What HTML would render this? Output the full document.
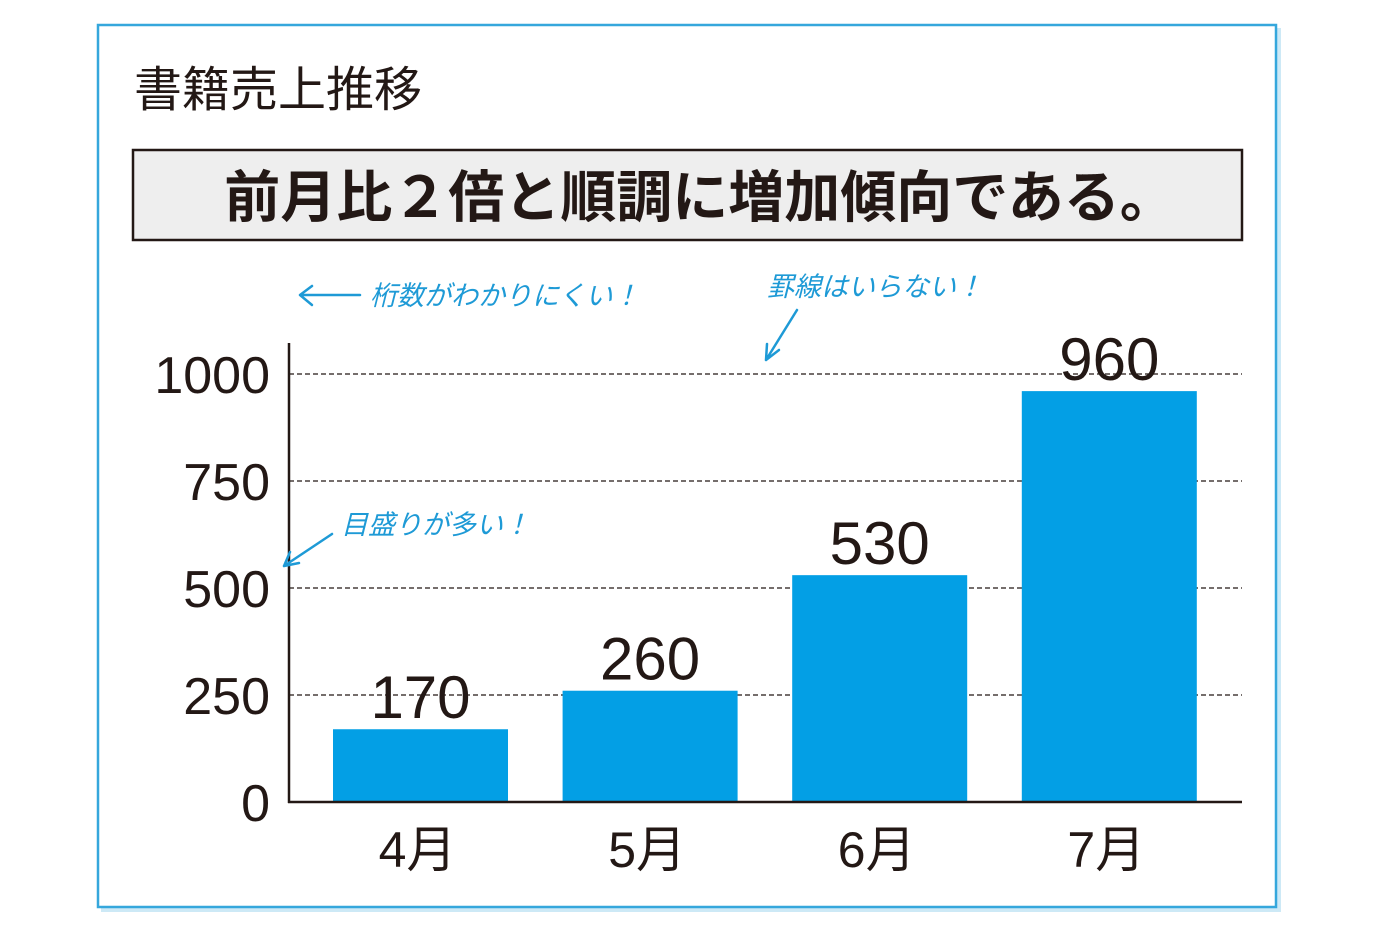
<!DOCTYPE html>
<html><head><meta charset="utf-8">
<style>
body{margin:0;width:1385px;height:943px;background:#fff;overflow:hidden}
svg{display:block}
text{font-family:"Liberation Sans","Noto Sans CJK JP",sans-serif}
.hand{font-family:"Noto Sans CJK JP",sans-serif;fill:#1e9ad6;font-size:27px;font-style:italic}
</style></head><body>
<svg width="1385" height="943" xmlns="http://www.w3.org/2000/svg">
<rect x="101" y="28" width="1180" height="884" fill="#cde9f6"/>
<rect x="98" y="25" width="1178" height="882" fill="#fff" stroke="#35a7dc" stroke-width="2.5"/>
<text x="134" y="106" font-size="48" fill="#231815">書籍売上推移</text>
<rect x="133" y="150" width="1109" height="90" fill="#eeeeee" stroke="#231815" stroke-width="2.5"/>
<text x="700" y="217" font-size="56" font-weight="bold" fill="#231815" text-anchor="middle">前月比２倍と順調に増加傾向である。</text>
<g id="grid"></g><g id="bars"></g><g id="labels"></g>
<line x1="289" y1="343" x2="289" y2="803" stroke="#231815" stroke-width="2.5"/>
<line x1="288" y1="802" x2="1242" y2="802" stroke="#231815" stroke-width="2.5"/>
<g stroke="#1e9ad6" stroke-width="2.5" fill="none" stroke-linecap="round">
<path d="M300 295 L360 295 M300 295 L312 286 M300 295 L312 305"/>
<path d="M797 310 L766 360 M766 360 L767 344 M766 360 L779 350"/>
<path d="M332 534 L284 566 M284 566 L290 552 M284 566 L299 563"/>
</g>
<text class="hand" x="370" y="305">桁数がわかりにくい！</text>
<text class="hand" x="767" y="296">罫線はいらない！</text>
<text class="hand" x="341" y="534">目盛りが多い！</text>
</svg>
<script>
const categories=["4月","5月","6月","7月"];
const values=[170,260,530,960];
const ticks=[0,250,500,750,1000];
const NS="http://www.w3.org/2000/svg";
const y=v=>802-v*0.428;
const x=i=>333+i*229.6;
const bw=175;
function mk(t,a,p){const e=document.createElementNS(NS,t);for(const k in a)e.setAttribute(k,a[k]);p.appendChild(e);return e;}
const g=document.getElementById('grid'),b=document.getElementById('bars'),l=document.getElementById('labels');
ticks.forEach(t=>{
 if(t>0){const ln=mk('line',{x1:289,x2:1242,y1:y(t),y2:y(t),stroke:'#231815','stroke-width':1.3,'stroke-dasharray':'5 3'},g);
 
 }
 const tx=mk('text',{x:270,y:y(t)+19,'font-size':52,fill:'#231815','text-anchor':'end'},l);
 tx.textContent=t;
 
 
});
values.forEach((v,i)=>{
 const r=mk('rect',{x:x(i),y:y(v),width:bw,height:802-y(v),fill:'#039fe5'},b);
 
 
 const t=mk('text',{x:x(i)+bw/2,y:y(v)-11,'font-size':60,fill:'#231815','text-anchor':'middle'},l);
 t.textContent=v;
 
 
 const c=mk('text',{x:x(i)+bw/2-3,y:867,'font-size':50,fill:'#231815','text-anchor':'middle'},l);
 c.textContent=categories[i];
 
 
});
</script>
</body></html>
